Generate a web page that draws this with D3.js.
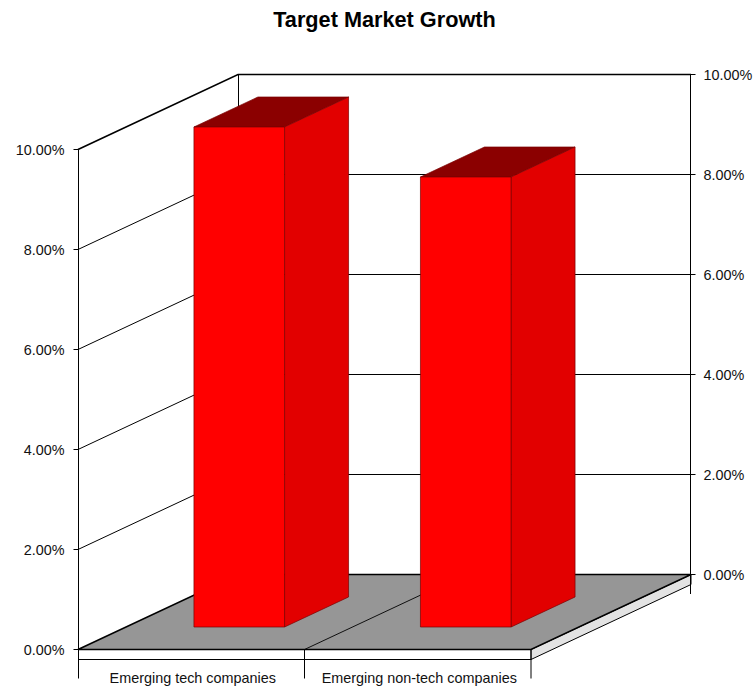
<!DOCTYPE html>
<html>
<head>
<meta charset="utf-8">
<script src="https://d3js.org/d3.v7.min.js"></script>
<style>
  body { margin: 0; background: #fff; }
  svg { display: block; }
  text { font-family: "Liberation Sans", Arial, sans-serif; fill: #111; }
</style>
</head>
<body>
<svg width="755" height="687"></svg>
<script>
var title = "Target Market Growth";
var categories = ["Emerging tech companies", "Emerging non-tech companies"];
var growth = [10, 9];
var yTicks = [0, 2, 4, 6, 8, 10];

var svg = d3.select("svg");
var fmt = function(d) { return d3.format(".2f")(d) + "%"; };

// front plane of the box, the back plane is shifted by depth
var depthX = 160, depthY = -75;
var x = d3.scaleBand().domain(categories).range([78, 531]);
var y = d3.scaleLinear().domain([0, 10]).range([649.5, 149.5]);
var barInset = x.bandwidth() * 0.3;
var barWidth = x.bandwidth() * 0.4;
var barNear = 0.3, barFar = 0.7;

function pt(px, value, depth) {
  return [px + depthX * depth, y(value) + depthY * depth];
}
function poly(points) {
  return d3.line()(points) + "Z";
}

svg.append("text")
  .attr("x", 384.5).attr("y", 27)
  .attr("text-anchor", "middle")
  .attr("font-size", 21.7).attr("font-weight", "bold")
  .style("fill", "#000")
  .text(title);

// gridlines on side wall and back wall
var x0 = x.range()[0], x1 = x.range()[1];
svg.append("g").selectAll("path")
  .data(yTicks.filter(function(d) { return d > 0; }))
  .enter().append("path")
  .attr("d", function(d) { return d3.line()([pt(x0, d, 0), pt(x0, d, 1), pt(x1, d, 1)]); })
  .attr("fill", "none")
  .attr("stroke", "#000")
  .attr("stroke-width", function(d) { return d == 10 ? 1.6 : 1; });

// back corner
svg.append("path")
  .attr("d", d3.line()([pt(x0 + 0.5, 0, 1), pt(x0 + 0.5, 10, 1)]))
  .attr("stroke", "#000").attr("stroke-width", 1);

// floor slab
var slab = 10 / 50;
svg.append("path")
  .attr("d", poly([pt(x1, 0, 0), pt(x1, 0, 1), pt(x1, -slab, 1), pt(x1, -slab, 0)]))
  .attr("fill", "#e3e3e3").attr("stroke", "#000").attr("stroke-width", 1);
svg.append("path")
  .attr("d", poly([pt(x0, 0, 0), pt(x0, 0, 1), pt(x1, 0, 1), pt(x1, 0, 0)]))
  .attr("fill", "#969696").attr("stroke", "#000").attr("stroke-width", 1.5);
svg.append("path")
  .attr("d", d3.line()([pt(x1 - x.bandwidth(), 0, 0), pt(x1 - x.bandwidth(), 0, 1)]))
  .attr("stroke", "#000").attr("stroke-width", 0.9);

// bars
var bars = svg.append("g").selectAll("g")
  .data(categories)
  .enter().append("g")
  .attr("stroke", "#7a0000").attr("stroke-width", 0.7);

bars.append("path")
  .attr("fill", "#8b0000")
  .attr("d", function(d, i) {
    var a = x(d) + barInset, b = a + barWidth, v = growth[i];
    return poly([pt(a, v, barNear), pt(a, v, barFar), pt(b, v, barFar), pt(b, v, barNear)]);
  });
bars.append("path")
  .attr("fill", "#e20000")
  .attr("d", function(d, i) {
    var b = x(d) + barInset + barWidth, v = growth[i];
    return poly([pt(b, 0, barNear), pt(b, 0, barFar), pt(b, v, barFar), pt(b, v, barNear)]);
  });
bars.append("path")
  .attr("fill", "#ff0000")
  .attr("d", function(d, i) {
    var a = x(d) + barInset, b = a + barWidth, v = growth[i];
    return poly([pt(a, 0, barNear), pt(a, v, barNear), pt(b, v, barNear), pt(b, 0, barNear)]);
  });

// value axes
var leftAxis = d3.axisLeft(y).tickValues(yTicks).tickFormat(fmt).tickSize(5).tickSizeOuter(0).tickPadding(9).offset(0);
var rightAxis = d3.axisRight(y).tickValues(yTicks).tickFormat(fmt).tickSize(5).tickSizeOuter(0).tickPadding(8).offset(0);

var gl = svg.append("g").attr("transform", "translate(" + (x0 + 0.5) + ",0)").call(leftAxis);
var gr = svg.append("g").attr("transform", "translate(" + (x1 + depthX - 0.5) + "," + depthY + ")").call(rightAxis);
[gl, gr].forEach(function(g) {
  g.attr("font-family", null).attr("font-size", null);
  g.selectAll("text").attr("font-size", 14.4).attr("dy", "0.38em");
  g.selectAll("line, path").attr("stroke", "#000");
});

// category axis under the floor
var gx = svg.append("g").attr("transform", "translate(0," + y(-slab) + ")")
  .call(d3.axisBottom(x).tickSize(0).tickPadding(13).offset(0));
gx.attr("font-family", null).attr("font-size", null);
gx.selectAll("text").attr("font-size", 14.4).attr("dx", 1.5);
gx.select(".domain").attr("stroke", "#000");

var catEdges = [x0 + 0.5, x1 - x.bandwidth(), x1];
svg.append("g").selectAll("line")
  .data(catEdges)
  .enter().append("line")
  .attr("x1", function(d) { return d; }).attr("x2", function(d) { return d; })
  .attr("y1", y(0)).attr("y2", y(-0.58))
  .attr("stroke", "#000").attr("stroke-width", 1);

// short drop at the far right corner
svg.append("line")
  .attr("x1", x1 + depthX - 0.5).attr("x2", x1 + depthX - 0.5)
  .attr("y1", y(0) + depthY).attr("y2", y(-0.39) + depthY)
  .attr("stroke", "#000");
</script>
</body>
</html>
